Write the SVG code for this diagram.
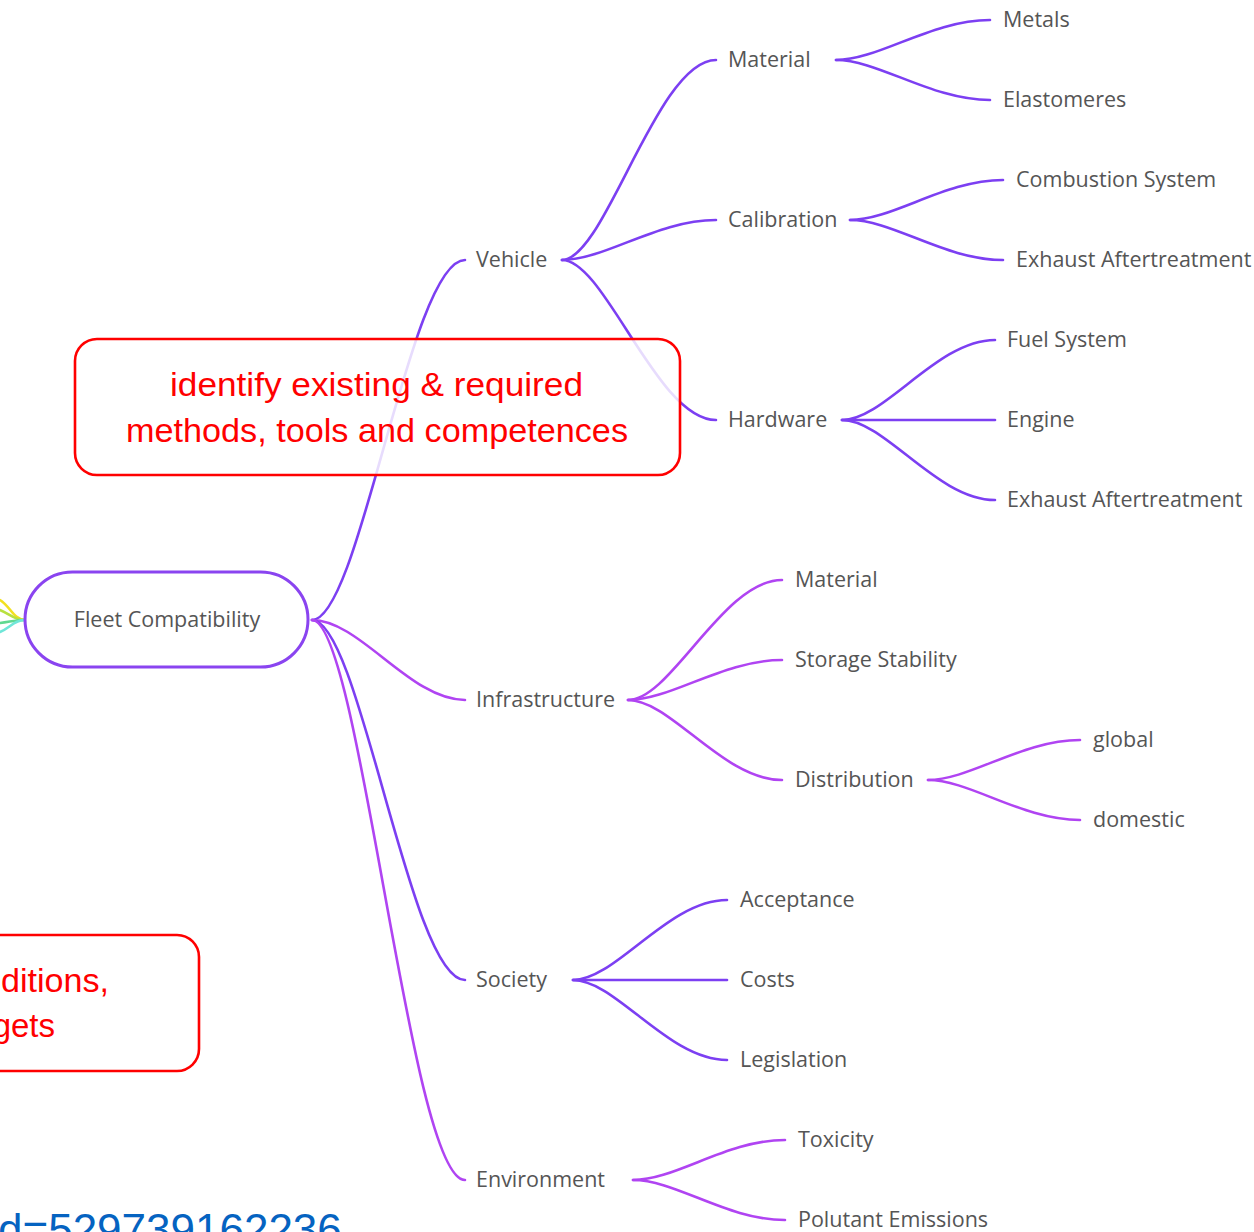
<svg xmlns="http://www.w3.org/2000/svg" width="1254" height="1232" viewBox="0 0 1254 1232">
<style>
.lbl{font-family:"Open Sans","Noto Sans",sans-serif;font-size:21.5px;fill:#555555}
.c{fill:none;stroke-width:2.6;stroke-linecap:round}
.v{stroke:#7c3ff2}
.m{stroke:#b044f2}
.note{fill:#ffffff;fill-opacity:0.82;stroke:#ff0000;stroke-width:2.6}
.nt{font-family:"Liberation Sans",Arial,sans-serif;font-size:33px;fill:#ff0000}
</style>
<rect width="1254" height="1232" fill="#ffffff"/>
<g id="connectors">
<path class="c" stroke="#f2e020" d="M0,600 C10,606 14,620 25,620"/>
<path class="c" stroke="#b8e040" d="M0,610 C10,614 14,620 25,620"/>
<path class="c" stroke="#60d890" d="M0,623 C10,622 14,620 25,620"/>
<path class="c" stroke="#70e6d8" d="M0,632 C10,628 14,620 25,620"/>
<path class="c v" d="M312,620 C360,620 410,260 465,260"/>
<path class="c m" d="M312,620 C360,620 410,700 465,700"/>
<path class="c v" d="M312,620 C360,620 410,980 465,980"/>
<path class="c m" d="M312,620 C360,620 410,1180 465,1180"/>
<path class="c v" d="M562,260 C605,260 657,60 716,60"/>
<path class="c v" d="M562,260 C605,260 657,220 716,220"/>
<path class="c v" d="M562,260 C605,260 657,420 716,420"/>
<path class="c v" d="M836,60 C879,60 931,20 990,20"/>
<path class="c v" d="M836,60 C879,60 931,100 990,100"/>
<path class="c v" d="M850,220 C893,220 945,180 1003,180"/>
<path class="c v" d="M850,220 C893,220 945,260 1003,260"/>
<path class="c v" d="M842,420 C885,420 937,340 995,340"/>
<path class="c v" d="M842,420 C885,420 937,420 995,420"/>
<path class="c v" d="M842,420 C885,420 937,500 995,500"/>
<path class="c m" d="M628,700 C671,700 723,580 782,580"/>
<path class="c m" d="M628,700 C671,700 723,660 782,660"/>
<path class="c m" d="M628,700 C671,700 723,780 782,780"/>
<path class="c m" d="M928,780 C970,780 1022,740 1080,740"/>
<path class="c m" d="M928,780 C970,780 1022,820 1080,820"/>
<path class="c v" d="M573,980 C616,980 668,900 727,900"/>
<path class="c v" d="M573,980 C616,980 668,980 727,980"/>
<path class="c v" d="M573,980 C616,980 668,1060 727,1060"/>
<path class="c m" d="M633,1180 C676,1180 727,1140 785,1140"/>
<path class="c m" d="M633,1180 C676,1180 727,1220 785,1220"/>
</g>
<g id="fleet">
<rect x="25" y="572" width="283" height="95" rx="47.5" fill="#ffffff" stroke="#8a44f0" stroke-width="3"/>
<text class="lbl" x="167" y="627" text-anchor="middle">Fleet Compatibility</text>
</g>
<g id="vehicle"><text class="lbl" x="476" y="267">Vehicle</text></g>
<g id="v-material"><text class="lbl" x="728" y="67">Material</text></g>
<g id="metals"><text class="lbl" x="1003" y="27">Metals</text></g>
<g id="elastomeres"><text class="lbl" x="1003" y="107">Elastomeres</text></g>
<g id="calibration"><text class="lbl" x="728" y="227">Calibration</text></g>
<g id="combustion"><text class="lbl" x="1016" y="187">Combustion System</text></g>
<g id="cal-exhaust"><text class="lbl" x="1016" y="267">Exhaust Aftertreatment</text></g>
<g id="hardware"><text class="lbl" x="728" y="427">Hardware</text></g>
<g id="fuel"><text class="lbl" x="1007" y="347">Fuel System</text></g>
<g id="engine"><text class="lbl" x="1007" y="427">Engine</text></g>
<g id="hw-exhaust"><text class="lbl" x="1007" y="507">Exhaust Aftertreatment</text></g>
<g id="infrastructure"><text class="lbl" x="476" y="707">Infrastructure</text></g>
<g id="i-material"><text class="lbl" x="795" y="587">Material</text></g>
<g id="storage"><text class="lbl" x="795" y="667">Storage Stability</text></g>
<g id="distribution"><text class="lbl" x="795" y="787">Distribution</text></g>
<g id="global"><text class="lbl" x="1093" y="747">global</text></g>
<g id="domestic"><text class="lbl" x="1093" y="827">domestic</text></g>
<g id="society"><text class="lbl" x="476" y="987">Society</text></g>
<g id="acceptance"><text class="lbl" x="740" y="907">Acceptance</text></g>
<g id="costs"><text class="lbl" x="740" y="987">Costs</text></g>
<g id="legislation"><text class="lbl" x="740" y="1067">Legislation</text></g>
<g id="environment"><text class="lbl" x="476" y="1187">Environment</text></g>
<g id="toxicity"><text class="lbl" x="798" y="1147">Toxicity</text></g>
<g id="emissions"><text class="lbl" x="798" y="1227">Polutant Emissions</text></g>
<g id="note-methods">
<rect class="note" x="75" y="339" width="605" height="136" rx="22"/>
<text class="nt" x="170" y="396" textLength="413" lengthAdjust="spacingAndGlyphs">identify existing &amp; required</text>
<text class="nt" x="126" y="442" textLength="502" lengthAdjust="spacingAndGlyphs">methods, tools and competences</text>
</g>
<g id="note-left">
<rect class="note" x="-30" y="935" width="229" height="136" rx="22"/>
<text class="nt" x="1" y="992" textLength="108" lengthAdjust="spacingAndGlyphs">ditions,</text>
<text class="nt" x="55" y="1037" text-anchor="end">gets</text>
</g>
<g id="link"><text x="-2" y="1245" font-family="Liberation Sans, Arial, sans-serif" font-size="44" fill="#0563c1">d=529739162236</text></g>
</svg>
